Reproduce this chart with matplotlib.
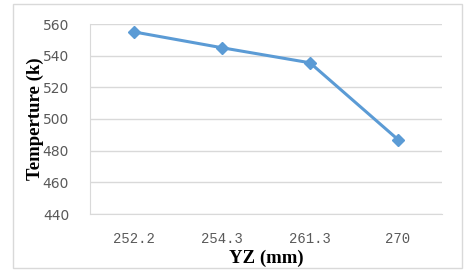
import matplotlib
matplotlib.use('Agg')
import matplotlib.pyplot as plt
from matplotlib.patches import Rectangle

categories = ['252.2', '254.3', '261.3', '270']
temperature = [555, 545, 535.5, 487]
yticks = [440, 460, 480, 500, 520, 540, 560]

blue = '#5B9BD5'
grid = '#D9D9D9'

fig = plt.figure(figsize=(4.76, 2.74), dpi=100)
ax = fig.add_axes([90/476, 1 - 214/274, 352/476, 190/274])

x = range(len(categories))
ax.plot(x, temperature, color=blue, lw=2.2, marker='D', ms=6, mec=blue, mfc=blue)

ax.set_xlim(-0.5, len(categories) - 0.5)
ax.set_ylim(440, 560)
ax.set_yticks(yticks)
ax.set_xticks(list(x))
ax.set_xticklabels(categories, family='Liberation Mono', fontsize=10, color='#595959')
for t in ax.get_yticklabels():
    t.set_fontsize(10)
    t.set_color('#595959')
ax.tick_params(length=0)
ax.tick_params(axis='y', pad=15)
ax.tick_params(axis='x', pad=13)
ax.grid(axis='y', color=grid, lw=1)
ax.set_axisbelow(True)
for s in ['top', 'right']:
    ax.spines[s].set_visible(False)
for s in ['left', 'bottom']:
    ax.spines[s].set_color(grid)

ax.set_xlabel('YZ (mm)', family='Liberation Serif', fontweight='bold', fontsize=13.5)
ax.set_ylabel('Temperture (k)', family='Liberation Serif', fontweight='bold', fontsize=13.5)
ax.xaxis.set_label_coords(0.5, (214 - 258) / 190, transform=ax.transAxes)
ax.yaxis.set_label_coords((35 - 90) / 352, 0.5, transform=ax.transAxes)
ax.xaxis.label.set_va('center')
ax.yaxis.label.set_va('center')

fig.patches.append(Rectangle((13/476, 1 - 268/274), 449/476, 264/274, transform=fig.transFigure,
                             fill=False, ec=grid, lw=1))

fig.savefig('out.png', dpi=100)
